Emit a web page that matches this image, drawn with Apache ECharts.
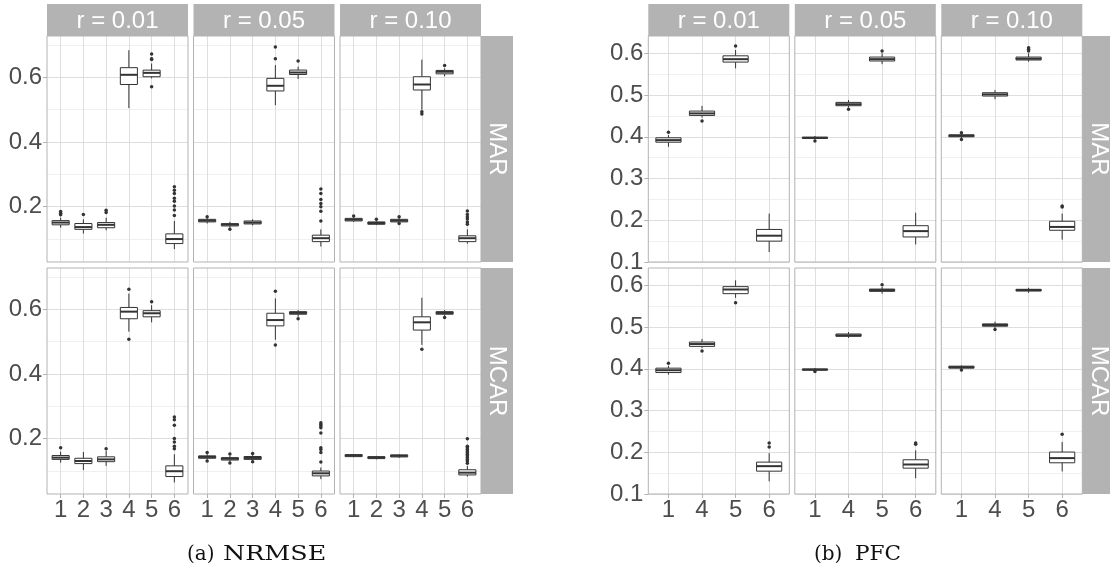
<!DOCTYPE html>
<html>
<head>
<meta charset="utf-8">
<script src="https://cdn.jsdelivr.net/npm/echarts@6/dist/echarts.min.js"></script>
<style>
html,body{margin:0;padding:0;background:#fff;}
#chart{width:1110px;height:572px;}
</style>
</head>
<body>
<div id="chart"></div>
<script>
// ---------------- data ----------------
const nrmseCats = ['1', '2', '3', '4', '5', '6'];
const pfcCats = ['1', '4', '5', '6'];
const rLabels = ['r = 0.01', 'r = 0.05', 'r = 0.10'];
const mechLabels = ['MAR', 'MCAR'];
const nrmseYTicks = [0.2, 0.4, 0.6];
const pfcYTicks = [0.1, 0.2, 0.3, 0.4, 0.5, 0.6];
const captionA = ['(a)', 'NRMSE'];
const captionB = ['(b)', 'PFC'];

// box stats per category: [lower whisker, Q1, median, Q3, upper whisker]
const nrmseMAR001Box = [[0.135,0.144,0.151,0.157,0.166],[0.117,0.130,0.137,0.148,0.161],[0.127,0.135,0.144,0.151,0.166],[0.505,0.578,0.608,0.630,0.684],[0.597,0.602,0.614,0.6225,0.643],[0.069,0.086,0.100,0.116,0.156]];
const nrmseMAR001Out = [[0.185,0.180,0.175],[0.176],[0.189,0.182],[],[0.672,0.658,0.655,0.571],[0.262,0.251,0.241,0.226,0.217,0.202,0.190,0.173]];
const nrmseMAR005Box = [[0.148,0.153,0.157,0.161,0.165],[0.135,0.1405,0.1446,0.1477,0.153],[0.142,0.1467,0.151,0.1559,0.161],[0.514,0.558,0.574,0.597,0.638],[0.595,0.609,0.615,0.6226,0.633],[0.077,0.092,0.1026,0.112,0.130]];
const nrmseMAR005Out = [[0.169],[0.130],[],[0.658,0.694],[0.651],[0.255,0.241,0.222,0.210,0.200,0.186,0.156]];
const nrmseMAR010Box = [[0.153,0.156,0.160,0.164,0.167],[0.143,0.1456,0.1497,0.153,0.156],[0.150,0.153,0.157,0.161,0.165],[0.500,0.561,0.578,0.602,0.655],[0.603,0.611,0.6175,0.6215,0.628],[0.086,0.092,0.1026,0.110,0.130]];
const nrmseMAR010Out = [[0.171],[0.161],[0.169,0.148],[0.494,0.487],[0.637],[0.187,0.176,0.168,0.162,0.153,0.146]];
const nrmseMCAR001Box = [[0.126,0.136,0.1415,0.148,0.160],[0.103,0.123,0.131,0.1395,0.159],[0.116,0.129,0.136,0.144,0.162],[0.531,0.571,0.593,0.606,0.649],[0.560,0.577,0.588,0.596,0.613],[0.065,0.083,0.0995,0.116,0.152]];
const nrmseMCAR001Out = [[0.172],[],[0.169],[0.662,0.508],[0.624],[0.267,0.259,0.242,0.201,0.190,0.177,0.169]];
const nrmseMCAR005Box = [[0.135,0.1395,0.1436,0.147,0.152],[0.129,0.134,0.138,0.1415,0.147],[0.132,0.136,0.1405,0.145,0.149],[0.506,0.549,0.567,0.588,0.634],[0.577,0.585,0.589,0.593,0.598],[0.075,0.085,0.093,0.100,0.111]];
const nrmseMCAR005Out = [[0.157,0.131],[0.153,0.125],[0.154,0.129],[0.656,0.490],[0.571],[0.249,0.244,0.239,0.234,0.218,0.172,0.167,0.157,0.128]];
const nrmseMCAR010Box = [[0.143,0.1446,0.148,0.1508,0.153],[0.136,0.1385,0.1415,0.1446,0.147],[0.141,0.1436,0.147,0.150,0.152],[0.490,0.536,0.560,0.577,0.636],[0.580,0.585,0.589,0.593,0.598],[0.083,0.088,0.095,0.104,0.116]];
const nrmseMCAR010Out = [[],[],[],[0.477],[0.575],[0.200,0.177,0.172,0.167,0.162,0.157,0.152,0.147,0.142,0.136,0.131,0.124]];

const pfcMAR001Box = [[0.376,0.387,0.392,0.3976,0.404],[0.446,0.4512,0.456,0.4616,0.474],[0.564,0.579,0.586,0.594,0.608],[0.124,0.150,0.163,0.178,0.216]];
const pfcMAR001Out = [[0.411],[0.438],[0.6176],[]];
const pfcMAR005Box = [[0.393,0.396,0.3976,0.399,0.402],[0.470,0.4744,0.478,0.4824,0.488],[0.574,0.5816,0.586,0.591,0.600],[0.142,0.160,0.174,0.187,0.218]];
const pfcMAR005Out = [[0.390],[0.466],[0.6056],[]];
const pfcMAR010Box = [[0.3965,0.400,0.4024,0.4048,0.407],[0.490,0.4976,0.5016,0.5056,0.512],[0.580,0.584,0.587,0.591,0.600],[0.1536,0.176,0.184,0.1976,0.216]];
const pfcMAR010Out = [[0.4096,0.3936],[],[0.6136,0.610,0.6056],[0.234,0.232]];
const pfcMCAR001Box = [[0.386,0.391,0.3966,0.4015,0.407],[0.450,0.4537,0.4593,0.4641,0.4714],[0.570,0.580,0.590,0.5968,0.612],[0.1305,0.1547,0.1667,0.1764,0.198]];
const pfcMCAR001Out = [[0.4135],[0.4424],[0.558],[0.222,0.2125]];
const pfcMCAR005Box = [[0.394,0.3968,0.398,0.3996,0.402],[0.474,0.4778,0.4802,0.4834,0.488],[0.580,0.5855,0.5887,0.591,0.596],[0.1378,0.1619,0.1707,0.182,0.2045]];
const pfcMCAR005Out = [[0.3934],[],[0.6016],[0.222,0.219]];
const pfcMCAR010Box = [[0.399,0.4015,0.404,0.4063,0.408],[0.498,0.502,0.505,0.5076,0.513],[0.582,0.5863,0.5887,0.5904,0.594],[0.154,0.1748,0.186,0.2005,0.2246]];
const pfcMCAR010Out = [[0.3974],[0.494],[],[0.243]];

// ---------------- layout / style ----------------
const FONT = 'Liberation Sans';
const TXT = '#4d4d4d';
const GREY70 = '#b3b3b3';
const BOXC = '#333333';
const PW = 141, PH = 226;
const ROW_TOP = [36, 268];
const STRIP_H = 32, STRIP_W = 32;
const TICK_FS = 24, STRIP_FS = 24;
const CAP_FS = 20, CAP_Y = 554.5;

const figures = [
  { cats: nrmseCats, lefts: [47, 193.5, 340], yMin: 0.029, yMax: 0.728, yStep: 0.2, yTicks: nrmseYTicks,
    boxes: [[nrmseMAR001Box, nrmseMAR005Box, nrmseMAR010Box], [nrmseMCAR001Box, nrmseMCAR005Box, nrmseMCAR010Box]],
    outs: [[nrmseMAR001Out, nrmseMAR005Out, nrmseMAR010Out], [nrmseMCAR001Out, nrmseMCAR005Out, nrmseMCAR010Out]],
    caption: captionA, capX: [187, 223], capScale: 1.27 },
  { cats: pfcCats, lefts: [648.3, 794.8, 941.3], yMin: 0.1, yMax: 0.6415, yStep: 0.1, yTicks: pfcYTicks,
    boxes: [[pfcMAR001Box, pfcMAR005Box, pfcMAR010Box], [pfcMCAR001Box, pfcMCAR005Box, pfcMCAR010Box]],
    outs: [[pfcMAR001Out, pfcMAR005Out, pfcMAR010Out], [pfcMCAR001Out, pfcMCAR005Out, pfcMCAR010Out]],
    caption: captionB, capX: [814, 855], capScale: 1.08 }
];

function renderBox(params, api) {
  const x = api.value(0);
  const lo = api.coord([x, api.value(1)]);
  const q1 = api.coord([x, api.value(2)]);
  const md = api.coord([x, api.value(3)]);
  const q3 = api.coord([x, api.value(4)]);
  const hi = api.coord([x, api.value(5)]);
  const hw = api.size([0.75, 0])[0] / 2;
  const cx = md[0];
  return {
    type: 'group',
    children: [
      { type: 'line', shape: { x1: cx, y1: q1[1], x2: cx, y2: lo[1] }, style: { stroke: BOXC, lineWidth: 1 } },
      { type: 'line', shape: { x1: cx, y1: q3[1], x2: cx, y2: hi[1] }, style: { stroke: BOXC, lineWidth: 1 } },
      { type: 'rect', shape: { x: cx - hw, y: q3[1], width: 2 * hw, height: Math.max(q1[1] - q3[1], 0.5) },
        style: { fill: '#ffffff', stroke: BOXC, lineWidth: 1 } },
      { type: 'line', shape: { x1: cx - hw, y1: md[1], x2: cx + hw, y2: md[1] }, style: { stroke: BOXC, lineWidth: 2 } }
    ]
  };
}

const grids = [], xAxes = [], yAxes = [], series = [], graphics = [];

figures.forEach(function (fig, f) {
  const n = fig.cats.length;
  const positions = fig.cats.map(function (c, i) { return i + 1; });
  for (let r = 0; r < 2; r++) {
    for (let c = 0; c < 3; c++) {
      const idx = grids.length;
      grids.push({
        left: fig.lefts[c], top: ROW_TOP[r], width: PW, height: PH,
        show: true, backgroundColor: 'transparent', borderColor: GREY70, borderWidth: 1,
        z: 5, containLabel: false, outerBoundsMode: 'none'
      });
      xAxes.push({
        gridIndex: idx, type: 'value', min: 0.4, max: n + 0.6, minInterval: 1, maxInterval: 1,
        axisLine: { show: false },
        axisTick: { show: r === 1, length: 4, customValues: positions, lineStyle: { color: GREY70, width: 1 } },
        axisLabel: {
          show: r === 1, customValues: positions, margin: 4, color: TXT, fontSize: TICK_FS, fontFamily: FONT,
          formatter: function (v) {
            const k = Math.round(v);
            return (Math.abs(v - k) < 1e-6 && fig.cats[k - 1] !== undefined) ? fig.cats[k - 1] : '';
          }
        },
        splitLine: { show: true, lineStyle: { color: '#dedede', width: 1 } },
        minorSplitLine: { show: false }
      });
      yAxes.push({
        gridIndex: idx, type: 'value', min: fig.yMin, max: fig.yMax,
        minInterval: fig.yStep, maxInterval: fig.yStep,
        axisLine: { show: false },
        axisTick: { show: c === 0, length: 4, customValues: fig.yTicks, lineStyle: { color: GREY70, width: 1 } },
        axisLabel: {
          show: c === 0, customValues: fig.yTicks, margin: 5, color: TXT, fontSize: TICK_FS, fontFamily: FONT,
          formatter: function (v) {
            return fig.yTicks.some(function (t) { return Math.abs(t - v) < 1e-6; }) ? v.toFixed(1) : '';
          }
        },
        splitLine: { show: true, lineStyle: { color: '#dedede', width: 1 } },
        minorTick: { show: false, splitNumber: 2 },
        minorSplitLine: { show: true, lineStyle: { color: '#ececec', width: 0.8 } }
      });
      const boxes = fig.boxes[r][c];
      series.push({
        type: 'custom', xAxisIndex: idx, yAxisIndex: idx,
        renderItem: renderBox,
        encode: { x: 0, y: [1, 2, 3, 4, 5] },
        data: boxes.map(function (b, i) { return [i + 1].concat(b); }),
        silent: true, z: 2
      });
      const outData = [];
      fig.outs[r][c].forEach(function (vals, i) {
        vals.forEach(function (v) { outData.push([i + 1, v]); });
      });
      series.push({
        type: 'scatter', xAxisIndex: idx, yAxisIndex: idx, data: outData,
        symbol: 'circle', symbolSize: 3.5, itemStyle: { color: BOXC, opacity: 1 }, silent: true, z: 3
      });
    }
  }
  // column strips
  for (let c = 0; c < 3; c++) {
    graphics.push({ type: 'rect', shape: { x: fig.lefts[c], y: ROW_TOP[0] - STRIP_H, width: PW, height: STRIP_H },
      style: { fill: GREY70 }, silent: true });
    graphics.push({ type: 'text', x: fig.lefts[c] + PW / 2, y: ROW_TOP[0] - STRIP_H / 2 + 1,
      style: { text: rLabels[c], fill: '#ffffff', fontSize: STRIP_FS, fontFamily: FONT, align: 'center', verticalAlign: 'middle' },
      silent: true });
  }
  // row strips
  const sx = fig.lefts[2] + PW;
  for (let r = 0; r < 2; r++) {
    graphics.push({ type: 'rect', shape: { x: sx, y: ROW_TOP[r], width: STRIP_W, height: PH },
      style: { fill: GREY70 }, silent: true });
    graphics.push({ type: 'text', x: sx + STRIP_W / 2, y: ROW_TOP[r] + PH / 2, rotation: -Math.PI / 2,
      style: { text: mechLabels[r], fill: '#ffffff', fontSize: STRIP_FS, fontFamily: FONT, align: 'center', verticalAlign: 'middle' },
      silent: true });
  }
  // caption
  graphics.push({ type: 'text', x: fig.capX[0], y: CAP_Y,
    style: { text: fig.caption[0], fill: '#111111', fontSize: CAP_FS, fontFamily: 'DejaVu Serif', align: 'left', verticalAlign: 'middle' },
    silent: true });
  graphics.push({ type: 'text', x: fig.capX[1], y: CAP_Y, scaleX: fig.capScale,
    style: { text: fig.caption[1], fill: '#111111', fontSize: CAP_FS, fontFamily: 'DejaVu Serif', align: 'left', verticalAlign: 'middle' },
    silent: true });
});

const chart = echarts.init(document.getElementById('chart'), null, { renderer: 'canvas', width: 1110, height: 572 });
chart.setOption({
  backgroundColor: '#ffffff',
  animation: false,
  grid: grids,
  xAxis: xAxes,
  yAxis: yAxes,
  series: series,
  graphic: graphics
});
</script>
</body>
</html>
